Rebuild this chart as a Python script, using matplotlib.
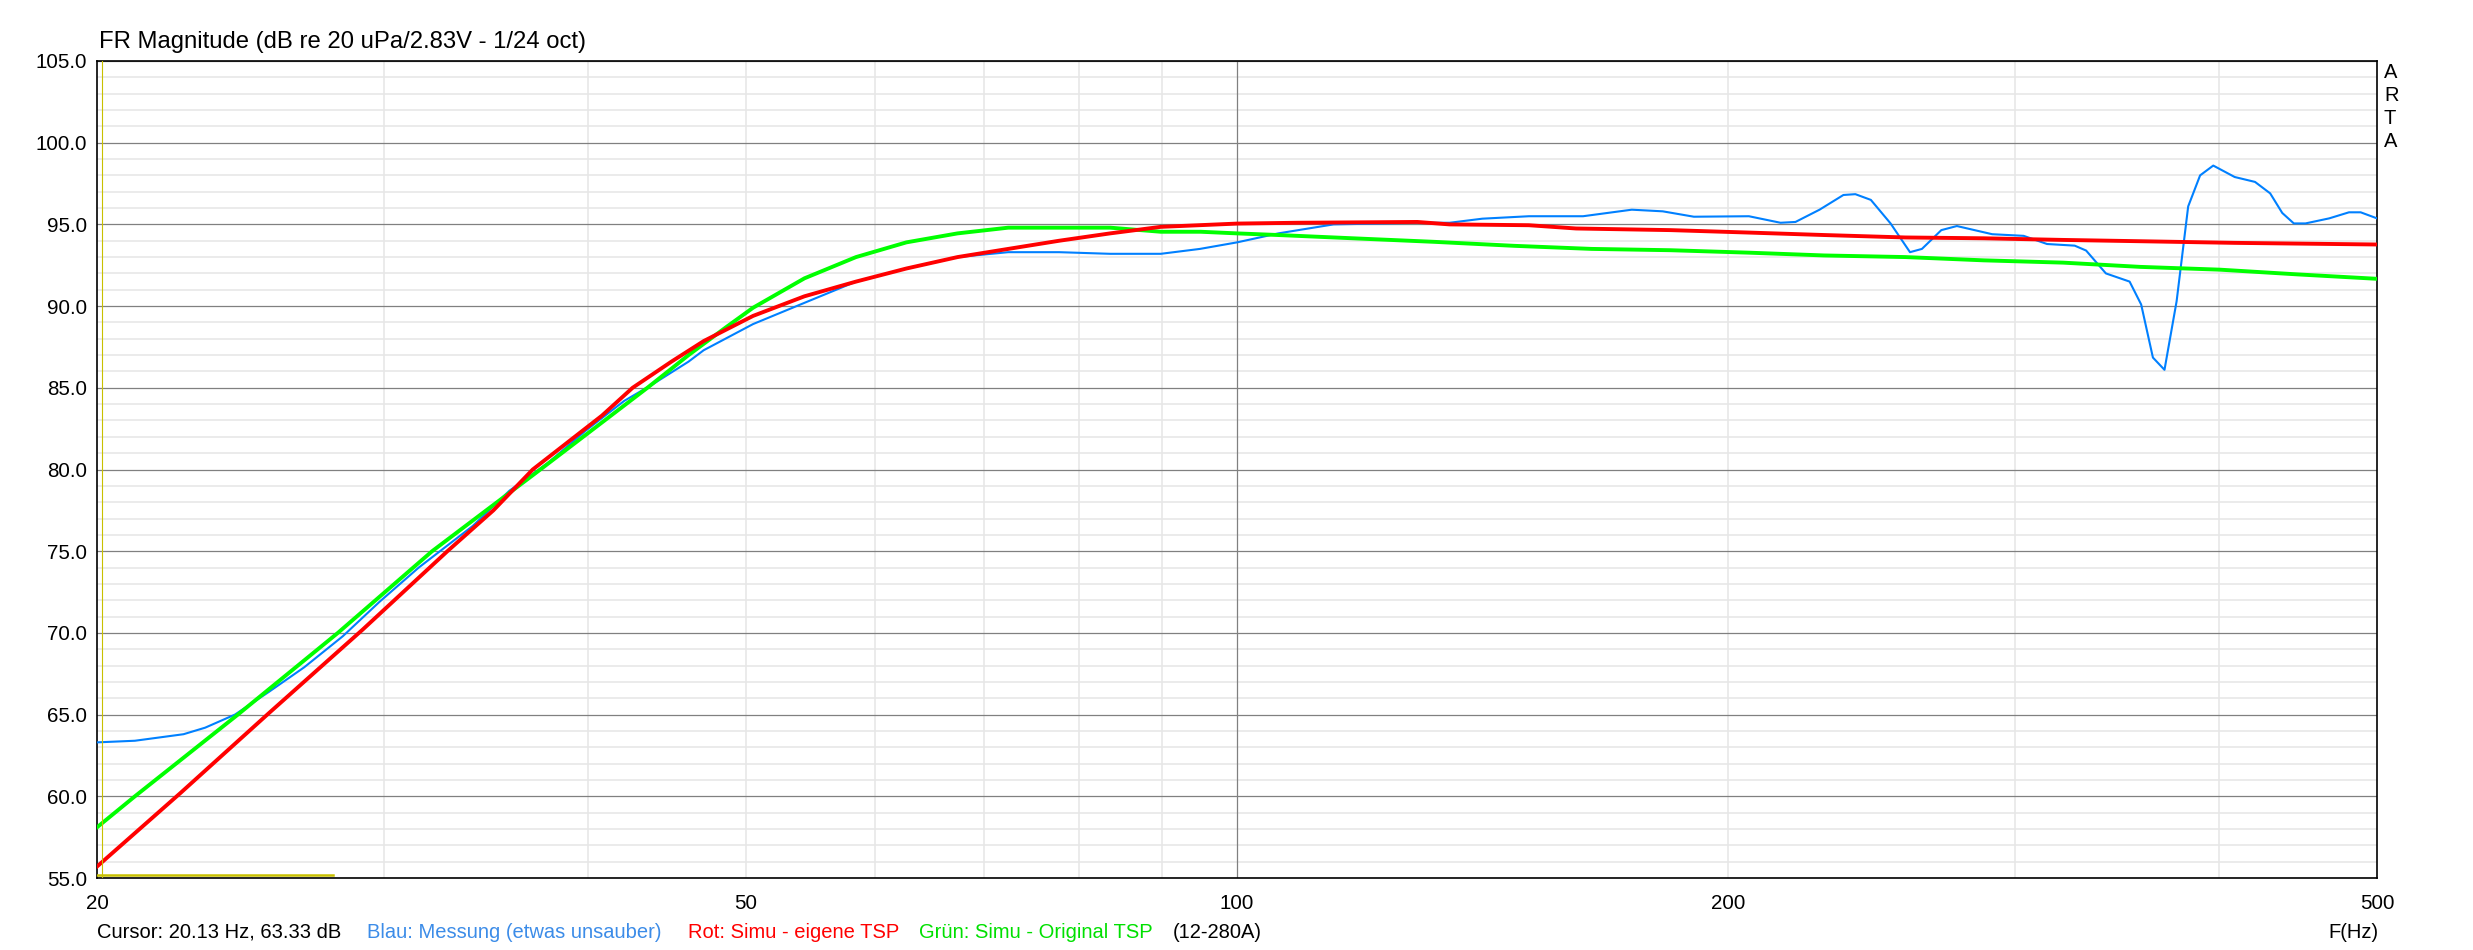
import matplotlib.pyplot as plt
from matplotlib.ticker import FixedLocator, NullFormatter

plt.rcParams['font.family'] = ['Liberation Sans', 'DejaVu Sans']

# measured response (blue)
blau_f = [20, 21.1, 22.6, 23.3, 24.3, 25.5, 26.8, 28.3, 29.8, 31.5, 34.0, 35.8,
          37.8, 39.9, 42.1, 43.8, 46.1, 47.1, 50.5, 54.3, 58.4, 62.7, 67.4, 72.4,
          77.8, 83.6, 89.8, 94.9, 100, 106, 114.6, 129.4, 135, 141.4, 151, 163,
          174.6, 182.4, 190.6, 206, 215.4, 220, 227.6, 235.4, 239.4, 244.7, 251.6,
          258.6, 263, 270.3, 276.3, 290.4, 303.6, 313.8, 326.3, 331.6, 341, 352.6,
          358.4, 364.4, 370.4, 376.8, 383, 389.5, 396.8, 409, 420.9, 430, 437.4,
          444.6, 452, 467.4, 480.6, 488.6, 500]
blau_db = [63.3, 63.4, 63.8, 64.2, 65.0, 66.4, 67.9, 69.8, 71.9, 74.0, 76.55, 78.7,
           80.4, 82.4, 84.2, 85.2, 86.6, 87.3, 88.9, 90.2, 91.5, 92.3, 93.0, 93.3,
           93.3, 93.2, 93.2, 93.5, 93.9, 94.45, 95.0, 95.1, 95.1, 95.35, 95.5, 95.5,
           95.9, 95.8, 95.47, 95.5, 95.1, 95.15, 95.9, 96.8, 96.85, 96.5, 95.06,
           93.3, 93.5, 94.65, 94.9, 94.4, 94.3, 93.8, 93.7, 93.4, 92.0, 91.5,
           90.1, 86.85, 86.1, 90.3, 96.1, 98.0, 98.6, 97.9, 97.6, 96.9, 95.7,
           95.06, 95.06, 95.37, 95.74, 95.74, 95.37]

# simulation with own TSP (red)
rot_f = [20, 22.5, 25.5, 29.1, 32.8, 35.0, 37.0, 40.8, 42.6, 45.0, 47.1, 50.5,
         54.3, 58.4, 62.7, 67.4, 72.4, 77.8, 83.6, 89.8, 100, 108.9, 129, 135,
         151, 161.4, 184.4, 206, 229, 257, 287, 321, 358, 409, 500]
rot_db = [55.7, 60.2, 65.1, 70.2, 75.0, 77.5, 80.0, 83.3, 85.0, 86.6, 87.86, 89.4,
          90.6, 91.5, 92.3, 93.0, 93.5, 94.0, 94.45, 94.85, 95.05, 95.1, 95.15, 95.0,
          94.95, 94.75, 94.65, 94.5, 94.35, 94.2, 94.15, 94.05, 93.97, 93.87, 93.77]

# simulation with original TSP (green)
gruen_f = [20, 21.1, 24.4, 28.1, 32.1, 37.4, 43.5, 46.1, 48.6, 50.5, 54.3, 58.4,
           62.7, 67.4, 72.4, 83.6, 89.8, 95, 100, 106, 118.4, 132.3, 147.8, 165,
           184.4, 206, 229, 257, 287, 321, 358, 400.5, 447, 500]
gruen_db = [58.1, 60.0, 65.0, 70.0, 75.0, 80.0, 85.0, 87.0, 88.7, 89.9, 91.7, 93.0,
            93.9, 94.45, 94.8, 94.8, 94.55, 94.55, 94.45, 94.35, 94.14, 93.93, 93.69, 93.5,
            93.42, 93.27, 93.1, 93.0, 92.8, 92.66, 92.4, 92.23, 91.94, 91.67]

cursor_f = 20.13
cursor_db = 63.33
marker_f = [20, 27.9]
marker_db = [55.2, 55.2]

x_ticks = [20, 50, 100, 200, 500]
x_minor = [30, 40, 50, 60, 70, 80, 90, 200, 300, 400]
y_ticks = [55, 60, 65, 70, 75, 80, 85, 90, 95, 100, 105]

W, H = 2473, 950
fig = plt.figure(figsize=(W / 100, H / 100), dpi=100)
ax = fig.add_axes([97 / W, 1 - 878 / H, (2377 - 97) / W, (878 - 61) / H])

ax.set_xscale('log')
ax.set_xlim(20, 500)
ax.set_ylim(55, 105)

ax.xaxis.set_major_locator(FixedLocator(x_ticks))
ax.set_xticklabels([str(t) for t in x_ticks])
ax.xaxis.set_minor_locator(FixedLocator(x_minor))
ax.xaxis.set_minor_formatter(NullFormatter())
ax.xaxis.remove_overlapping_locs = False
ax.set_yticks(y_ticks)
ax.set_yticklabels(['%.1f' % t for t in y_ticks])
ax.yaxis.set_minor_locator(FixedLocator(range(55, 106)))

fs = 14.8
ax.tick_params(which='both', length=0)
ax.tick_params(axis='y', pad=7, labelsize=fs)
ax.tick_params(axis='x', pad=11.5, labelsize=fs)

ax.grid(which='minor', color='#e6e6e6', lw=1.1)
ax.grid(which='major', axis='y', color='#808080', lw=0.9)
ax.axvline(100, color='#808080', lw=0.9)
ax.set_axisbelow(True)
for s in ax.spines.values():
    s.set_linewidth(1.2)
    s.set_color('black')

ax.plot(blau_f, blau_db, color='#0080ff', lw=1.5, zorder=3)
ax.plot(gruen_f, gruen_db, color='#00ff00', lw=2.8, zorder=4)
ax.plot(rot_f, rot_db, color='#ff0000', lw=2.8, zorder=5)

# cursor
ax.axvline(cursor_f, color='#c8c000', lw=0.8, zorder=6)
ax.plot(marker_f, marker_db, color='#c8c000', lw=1.8, zorder=6)

fig.text(99 / W, 1 - 48 / H, 'FR Magnitude (dB re 20 uPa/2.83V - 1/24 oct)',
         fontsize=17.2, va='baseline', ha='left')
fig.text(2384 / W, 1 - 63 / H, 'A\nR\nT\nA', fontsize=14.5, va='top', ha='left',
         linespacing=1.27)

lfs = 14.5
base = 1 - 938 / H
fig.text(97 / W, base, 'Cursor: %.2f Hz, %.2f dB' % (cursor_f, cursor_db),
         fontsize=lfs, va='baseline', color='black')
fig.text(367 / W, base, 'Blau: Messung (etwas unsauber)', fontsize=lfs,
         va='baseline', color='#3c8ce8')
fig.text(688 / W, base, 'Rot: Simu - eigene TSP', fontsize=lfs,
         va='baseline', color='#ff0000')
fig.text(919 / W, base, 'Grün: Simu - Original TSP', fontsize=lfs,
         va='baseline', color='#00e000')
fig.text(1173 / W, base, '(12-280A)', fontsize=lfs, va='baseline', color='black')
fig.text(2379 / W, base, 'F(Hz)', fontsize=lfs, va='baseline', ha='right')

fig.savefig('out.png', dpi=100)
